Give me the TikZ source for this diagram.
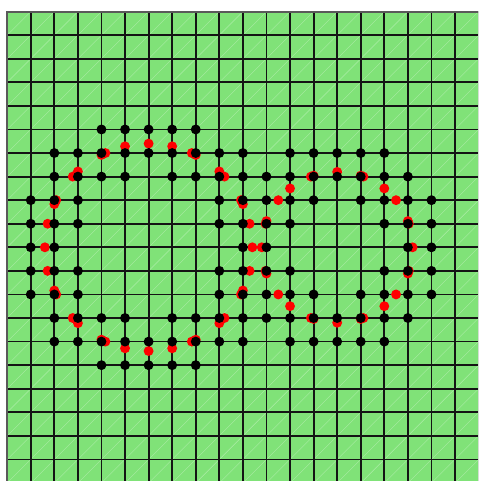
\documentclass[tikz,border=0pt]{standalone}
\definecolor{cellgreen}{RGB}{128,226,120}
\definecolor{edgegray}{RGB}{90,90,90}
\begin{document}
\begin{tikzpicture}[x=1cm,y=1cm,
  gridline/.style={line width=2.2pt, draw=black!92},
  edgeline/.style={line width=2.2pt, draw=edgegray},
  diag/.style={draw=white, opacity=0.35, line width=0.45pt},
  bdot/.style={fill=black},
  rdot/.style={fill=red}]
\path[use as bounding box] (-0.305,0.492) rectangle (19.975,-19.915);
\fill[white] (-0.305,0.492) rectangle (19.975,-19.915);
\clip (-0.305,0.492) rectangle (19.975,-19.915);
\fill[cellgreen] (0,0) rectangle (21,-21);
\begin{scope}
\clip (0,0) rectangle (21,-21);
\foreach \c in {-42,...,1} \draw[diag] (-1,{\c-1}) -- (23,{\c+23});
\end{scope}
\draw[gridline] (0,0) grid (21,-21);
\draw[edgeline] (0,-21) -- (0,0) -- (21,0);
% red points: intersections of the two circles with the grid lines
\foreach \k in {-4,...,4}{
  \pgfmathsetmacro\d{sqrt(19.36-(\k)^2)}
  \fill[rdot] ({6+\k},{-10+\d}) circle (0.21);
  \fill[rdot] ({6+\k},{-10-\d}) circle (0.21);
  \fill[rdot] ({6-\d},{-10-\k}) circle (0.21);
  \fill[rdot] ({6+\d},{-10-\k}) circle (0.21);
}
\foreach \k in {-3,...,3}{
  \pgfmathsetmacro\d{sqrt(10.24-(\k)^2)}
  \fill[rdot] ({14+\k},{-10+\d}) circle (0.21);
  \fill[rdot] ({14+\k},{-10-\d}) circle (0.21);
  \fill[rdot] ({14-\d},{-10-\k}) circle (0.21);
  \fill[rdot] ({14+\d},{-10-\k}) circle (0.21);
}
% black points: corners of cells cut by the circles
\foreach \j/\is in {
  5/{4,5,6,7,8},
  6/{2,3,4,5,6,7,8,9,10,12,13,14,15,16},
  7/{2,3,4,5,7,8,9,10,11,12,13,14,15,16,17},
  8/{1,2,3,9,10,11,12,13,15,16,17,18},
  9/{1,2,3,9,10,11,12,16,17,18},
  10/{1,2,10,11,17,18},
  11/{1,2,3,9,10,11,12,16,17,18},
  12/{1,2,3,9,10,11,12,13,15,16,17,18},
  13/{2,3,4,5,7,8,9,10,11,12,13,14,15,16,17},
  14/{2,3,4,5,6,7,8,9,10,12,13,14,15,16},
  15/{4,5,6,7,8}}{
  \foreach \i in \is { \fill[bdot] (\i,-\j) circle (0.21); }
}
\end{tikzpicture}
\end{document}
